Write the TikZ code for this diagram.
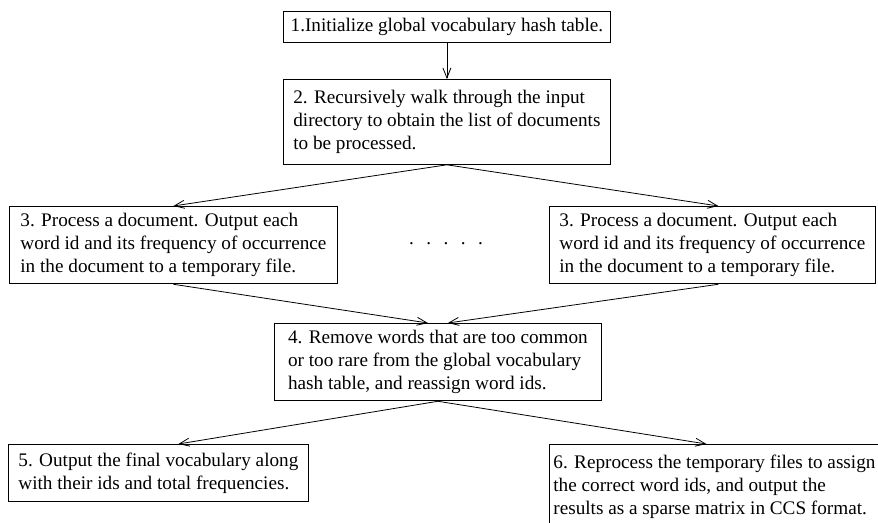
\documentclass[tikz,border=0pt]{standalone}
\usepackage{fontspec}
\setmainfont{Liberation Serif}
\usetikzlibrary{arrows.meta}
\tikzset{
  stepbox/.style={draw, line width=0.8pt, align=left, anchor=north west,
    inner xsep=7pt, inner ysep=7pt, font=\fontsize{19.2}{23}\selectfont},
  flow/.style={line width=0.8pt, -{Straight Barb[length=10pt,width=8pt]}}
}
\newcommand{\dotgap}{\hspace{12.5pt}}

\begin{document}
\begin{tikzpicture}[x=1pt,y=-1pt]
\useasboundingbox (0,0) rectangle (878,522);
% Steps 1 and 2: set up, then list the input documents
\node[stepbox,minimum width=327pt] (init) at (283,11)
  {1.Initialize global vocabulary hash table.};
\node[stepbox,minimum width=327pt,minimum height=85pt] (walk) at (283,79)
  {2. Recursively walk through the input\\
   directory to obtain the list of documents\\
   to be processed.};
% Step 3, once per document
\node[stepbox,minimum width=328pt] (procL) at (9,206)
  {3. Process a document. Output each\\
   word id and its frequency of occurrence\\
   in the document to a temporary file.};
\node[stepbox,minimum width=326pt] (procR) at (549,206)
  {3. Process a document. Output each\\
   word id and its frequency of occurrence\\
   in the document to a temporary file.};
\node[font=\fontsize{19.2}{23}\selectfont,inner sep=0pt] (more) at (446,244)
  {.\dotgap.\dotgap.\dotgap.\dotgap.};
% Step 4: prune the vocabulary
\node[stepbox,minimum width=327pt] (prune) at (274,323)
  {4. Remove words that are too common\\
   or too rare from the global vocabulary\\
   hash table, and reassign word ids.};
% Steps 5 and 6: outputs (box 6 runs past the bottom edge)
\node[stepbox,minimum width=300pt,minimum height=57pt] (vocab) at (8,444)
  {5. Output the final vocabulary along\\
   with their ids and total frequencies.};
\node[stepbox,inner xsep=4pt,minimum height=84pt] (matrix) at (549,444)
  {6. Reprocess the temporary files to assign\\
   the correct word ids, and output the\\
   results as a sparse matrix in CCS format.};
% Connectors
\draw[flow] (init.south) -- (walk.north);
\draw[flow] (walk.south) -- (procL.north);
\draw[flow] (walk.south) -- ([xshift=6pt]procR.north);
\draw[flow] (procL.south) -- ([xshift=-10pt]prune.north);
\draw[flow] ([xshift=6pt]procR.south) -- ([xshift=10pt]prune.north);
\draw[flow] (prune.south) -- ([xshift=20pt]vocab.north);
\draw[flow] (prune.south) -- ([xshift=-8pt]matrix.north);
\end{tikzpicture}
\end{document}
